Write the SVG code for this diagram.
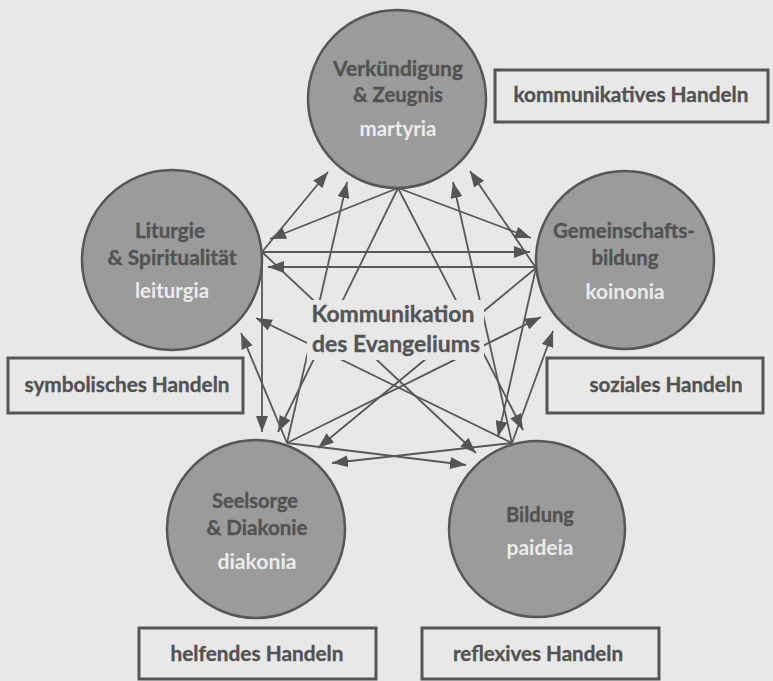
<svg xmlns="http://www.w3.org/2000/svg" width="773" height="681" viewBox="0 0 773 681">
<defs>
<style>
.bg{fill:#e8e8e8}
.node circle{fill:#9b9b9b;stroke:#575757;stroke-width:2.5}
.t{font-family:Lato,"Liberation Sans",sans-serif;font-weight:bold;font-size:21.5px;fill:#525252;stroke:#525252;stroke-width:0.35;text-anchor:middle}
.g{font-family:Lato,"Liberation Sans",sans-serif;font-weight:bold;font-size:20.5px;fill:#ececec;text-anchor:middle}
.c{font-family:Lato,"Liberation Sans",sans-serif;font-weight:bold;font-size:23px;fill:#555;stroke:#555;stroke-width:0.35;text-anchor:middle}
.box rect{fill:none;stroke:#555;stroke-width:3}
#connectors line{stroke:#585858;stroke-width:1.8;marker-end:url(#ah)}
</style>
<marker id="ah" markerUnits="userSpaceOnUse" markerWidth="16" markerHeight="12" refX="16" refY="6" orient="auto" viewBox="0 0 16 12">
<path d="M0,0 L16,6 L0,12 z" fill="#555"/>
</marker>
</defs>
<rect class="bg" x="0" y="0" width="773" height="681"/>

<g id="node-martyria" class="node">
<circle cx="397" cy="99" r="89"/>
<text class="t" x="398" y="76" textLength="130" lengthAdjust="spacingAndGlyphs">Verkündigung</text>
<text class="t" x="398" y="102" textLength="90" lengthAdjust="spacingAndGlyphs">&amp; Zeugnis</text>
<text class="g" x="398" y="136" textLength="77" lengthAdjust="spacingAndGlyphs">martyria</text>
</g>

<g id="node-leiturgia" class="node">
<circle cx="172" cy="260" r="90"/>
<text class="t" x="170" y="238" textLength="70" lengthAdjust="spacingAndGlyphs">Liturgie</text>
<text class="t" x="172" y="265" textLength="129" lengthAdjust="spacingAndGlyphs">&amp; Spiritualität</text>
<text class="g" x="172" y="298" textLength="74" lengthAdjust="spacingAndGlyphs">leiturgia</text>
</g>

<g id="node-koinonia" class="node">
<circle cx="625" cy="260" r="89"/>
<text class="t" x="624" y="238" textLength="142" lengthAdjust="spacingAndGlyphs">Gemeinschafts-</text>
<text class="t" x="625" y="265" textLength="67" lengthAdjust="spacingAndGlyphs">bildung</text>
<text class="g" x="625" y="299" textLength="79" lengthAdjust="spacingAndGlyphs">koinonia</text>
</g>

<g id="node-diakonia" class="node">
<circle cx="256" cy="529" r="89"/>
<text class="t" x="255" y="508" textLength="86" lengthAdjust="spacingAndGlyphs">Seelsorge</text>
<text class="t" x="257" y="535" textLength="101" lengthAdjust="spacingAndGlyphs">&amp; Diakonie</text>
<text class="g" x="257" y="569" textLength="79" lengthAdjust="spacingAndGlyphs">diakonia</text>
</g>

<g id="node-paideia" class="node">
<circle cx="537" cy="529" r="88"/>
<text class="t" x="540" y="522" textLength="68" lengthAdjust="spacingAndGlyphs">Bildung</text>
<text class="g" x="540" y="555" textLength="67" lengthAdjust="spacingAndGlyphs">paideia</text>
</g>

<g id="connectors">
<line x1="398" y1="188" x2="270" y2="239"/>
<line x1="398" y1="188" x2="531" y2="238"/>
<line x1="398" y1="188" x2="278" y2="432"/>
<line x1="398" y1="188" x2="523" y2="430"/>
<line x1="262" y1="252" x2="328" y2="172"/>
<line x1="262" y1="252" x2="530" y2="252"/>
<line x1="262" y1="252" x2="262" y2="432"/>
<line x1="262" y1="252" x2="476" y2="453"/>
<line x1="536" y1="268" x2="470" y2="171"/>
<line x1="536" y1="267" x2="268" y2="267"/>
<line x1="536" y1="268" x2="318" y2="448"/>
<line x1="536" y1="268" x2="498" y2="437"/>
<line x1="287" y1="443" x2="347" y2="182"/>
<line x1="287" y1="443" x2="241" y2="333"/>
<line x1="287" y1="443" x2="541" y2="317"/>
<line x1="287" y1="443" x2="466" y2="465"/>
<line x1="512" y1="443" x2="453" y2="182"/>
<line x1="512" y1="443" x2="256" y2="318"/>
<line x1="512" y1="443" x2="553" y2="331"/>
<line x1="512" y1="443" x2="332" y2="463"/>
</g>

<g id="center">
<rect class="bg" x="307" y="300" width="177" height="60"/>
<text class="c" x="393" y="322" textLength="163" lengthAdjust="spacingAndGlyphs">Kommunikation</text>
<text class="c" x="396" y="352" textLength="168" lengthAdjust="spacingAndGlyphs">des Evangeliums</text>
</g>

<g id="box-kommunikativ" class="box">
<rect x="495" y="70" width="273" height="52"/>
<text class="t" x="631" y="102" textLength="235" lengthAdjust="spacingAndGlyphs">kommunikatives Handeln</text>
</g>
<g id="box-symbolisch" class="box">
<rect x="8" y="358" width="235" height="55"/>
<text class="t" x="127" y="392" textLength="205" lengthAdjust="spacingAndGlyphs">symbolisches Handeln</text>
</g>
<g id="box-sozial" class="box">
<rect x="547" y="358" width="216" height="55"/>
<text class="t" x="666" y="392" textLength="153" lengthAdjust="spacingAndGlyphs">soziales Handeln</text>
</g>
<g id="box-helfend" class="box">
<rect x="139" y="628" width="237" height="51"/>
<text class="t" x="257" y="661" textLength="173" lengthAdjust="spacingAndGlyphs">helfendes Handeln</text>
</g>
<g id="box-reflexiv" class="box">
<rect x="422" y="628" width="237" height="51"/>
<text class="t" x="538" y="661" textLength="170" lengthAdjust="spacingAndGlyphs">reflexives Handeln</text>
</g>
</svg>
